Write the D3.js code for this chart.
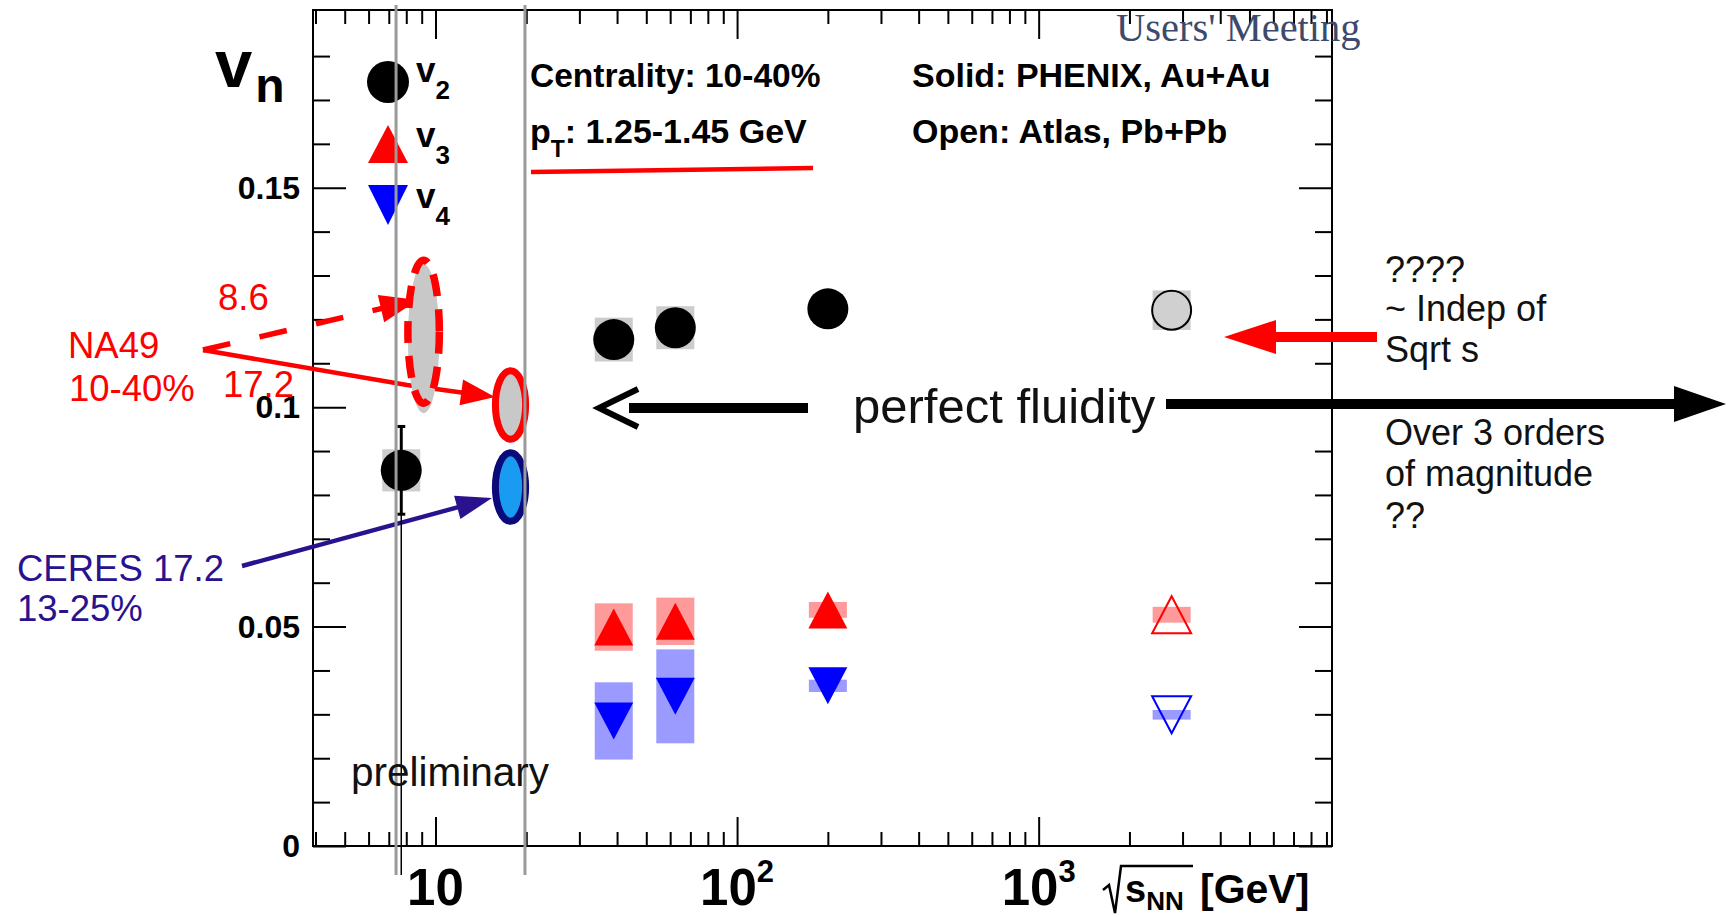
<!DOCTYPE html>
<html>
<head>
<meta charset="utf-8">
<script src="https://cdn.jsdelivr.net/npm/d3@7"></script>
<style>
  body { margin: 0; background: #fff; }
  text { font-family: "Liberation Sans", Arial, sans-serif; }
</style>
</head>
<body>
<div id="canvas"></div>
<script>
// sqrt(s_NN) in GeV; last point is ATLAS Pb+Pb (open markers), the rest PHENIX Au+Au
const energy = [7.7, 39, 62.4, 200, 2760];
const isOpen = [false, false, false, false, true];
const v2 = [0.0856, 0.1154, 0.1181, 0.1224, 0.1221];
const v2Stat = [0.0100, 0, 0, 0, 0];
const v2Sys = [0.0048, 0.0050, 0.0049, 0.0012, 0.0045];
const v3 = [null, 0.0499, 0.0512, 0.0538, 0.0527];
const v3Sys = [null, 0.0054, 0.0054, 0.0018, 0.0018];
const v4 = [null, 0.0285, 0.0341, 0.0365, 0.0299];
const v4Sys = [null, 0.0088, 0.0107, 0.0014, 0.0011];

// SPS measurements drawn as ellipses (ranges in data units)
const spsName = ["NA49 8.6", "NA49 17.2", "CERES 17.2"];
const spsXLo = [8.1, 15.8, 15.8];
const spsXHi = [10.3, 19.9, 19.9];
const spsYLo = [0.1009, 0.0927, 0.0740];
const spsYHi = [0.1335, 0.1083, 0.0896];

// gray guide lines (GeV)
const guideX = [7.4, 19.8];

const yTicks = [0, 0.05, 0.1, 0.15];
const yTickLabels = ["0", "0.05", "0.1", "0.15"];
const xTicks = [10, 100, 1000];
const xTickExp = ["", "2", "3"];

const width = 1729;
const height = 917;
const svg = d3.select("#canvas").append("svg")
  .attr("width", width).attr("height", height);

const x = d3.scaleLog().domain([3.925, 9390]).range([313, 1332]);
const y = d3.scaleLinear().domain([0, 0.1905]).range([846, 10]);

const minorX = [];
[1, 10, 100, 1000].forEach(d => {
  for (let k = 2; k <= 9; k++) {
    const v = d * k;
    if (v > x.domain()[0] && v < x.domain()[1]) minorX.push(v);
  }
});
const minorY = d3.range(1, 19).map(i => i / 100).filter(v => !yTicks.some(t => Math.abs(t - v) < 1e-9));

// ---- frame + ticks
const axes = svg.append("g").attr("class", "axes");
function tickAxis(axis, tr) {
  const g = axes.append("g").attr("transform", tr).call(axis);
  g.select(".domain").remove();
  g.selectAll("line").attr("stroke", "#000").attr("stroke-width", 2);
  g.selectAll("text").remove();
}
tickAxis(d3.axisBottom(x).tickValues(minorX).tickSize(-14), "translate(0,846)");
tickAxis(d3.axisBottom(x).tickValues(xTicks).tickSize(-29), "translate(0,846)");
tickAxis(d3.axisTop(x).tickValues(minorX).tickSize(-14), "translate(0,10)");
tickAxis(d3.axisTop(x).tickValues(xTicks).tickSize(-29), "translate(0,10)");
tickAxis(d3.axisLeft(y).tickValues(minorY).tickSize(-17), "translate(313,0)");
tickAxis(d3.axisLeft(y).tickValues(yTicks).tickSize(-33), "translate(313,0)");
tickAxis(d3.axisRight(y).tickValues(minorY).tickSize(-17), "translate(1332,0)");
tickAxis(d3.axisRight(y).tickValues(yTicks).tickSize(-33), "translate(1332,0)");

axes.append("rect")
  .attr("x", x.range()[0]).attr("y", y.range()[1])
  .attr("width", x.range()[1] - x.range()[0])
  .attr("height", y.range()[0] - y.range()[1])
  .attr("fill", "none").attr("stroke", "#000").attr("stroke-width", 2);

// y tick labels
axes.selectAll(".ylab").data(yTicks).join("text")
  .attr("x", 300).attr("y", d => y(d) + 11)
  .attr("text-anchor", "end").attr("font-size", 32).attr("font-weight", "bold")
  .text((d, i) => yTickLabels[i]);

// x tick labels 10, 10^2, 10^3
const xl = axes.selectAll(".xlab").data(xTicks).join("text")
  .attr("x", d => x(d)).attr("y", 905)
  .attr("text-anchor", "middle").attr("font-size", 51).attr("font-weight", "bold");
xl.append("tspan").text("10");
xl.append("tspan").attr("dy", -23).attr("font-size", 31).text((d, i) => xTickExp[i]);

// x axis title: sqrt(s_NN) [GeV]
axes.append("path")
  .attr("d", "M1103,890 L1109,885 L1115,913 L1121,866 L1193,866")
  .attr("fill", "none").attr("stroke", "#000").attr("stroke-width", 2.5);
const xt = axes.append("text").attr("x", 1125).attr("y", 902).attr("font-weight", "bold");
xt.append("tspan").attr("font-size", 38).text("s");
xt.append("tspan").attr("font-size", 26).attr("dy", 8).text("NN");
xt.append("tspan").attr("font-size", 41).attr("dy", -7).attr("x", 1200).text("[GeV]");

// y axis title v_n
const yt = svg.append("text").attr("x", 215).attr("y", 87).attr("font-weight", "bold");
yt.append("tspan").attr("font-size", 67).text("v");
yt.append("tspan").attr("font-size", 48).attr("dx", 3).attr("dy", 15).text("n");

// ---- helpers
function arrow(g, pts, color, sw, headLen, headHalf, dash) {
  const n = pts.length;
  const [x1, y1] = pts[n - 2];
  const [x2, y2] = pts[n - 1];
  const a = Math.atan2(y2 - y1, x2 - x1);
  const bx = x2 - headLen * Math.cos(a), by = y2 - headLen * Math.sin(a);
  const linePts = pts.slice(0, n - 1).concat([[bx + 2 * Math.cos(a), by + 2 * Math.sin(a)]]);
  g.append("path").attr("d", d3.line()(linePts))
    .attr("fill", "none").attr("stroke", color).attr("stroke-width", sw)
    .attr("stroke-dasharray", dash || null);
  const px = -Math.sin(a) * headHalf, py = Math.cos(a) * headHalf;
  g.append("path")
    .attr("d", `M${x2},${y2}L${bx + px},${by + py}L${bx - px},${by - py}Z`)
    .attr("fill", color);
}
function triPath(cx, cy, w, h, up) {
  const s = up ? 1 : -1;
  return `M${cx},${cy - s * h / 2}L${cx + w / 2},${cy + s * h / 2}L${cx - w / 2},${cy + s * h / 2}Z`;
}

// ---- annotation arrows (drawn beneath ellipses)
const ann = svg.append("g");
arrow(ann, [[203, 350], [407, 385], [495, 397]], "#ff0000", 4.5, 34, 13);
arrow(ann, [[203, 350], [418, 300]], "#ff0000", 5.5, 38, 14, "28 30");
arrow(ann, [[242, 566], [492, 498]], "#2a128f", 4.5, 36, 12);

// ---- systematic boxes
const boxHalf = 19;
const plot = svg.append("g");
function sysBoxes(vals, sys, fill) {
  energy.forEach((e, i) => {
    if (vals[i] == null) return;
    plot.append("rect")
      .attr("x", x(e) - boxHalf).attr("width", 2 * boxHalf)
      .attr("y", y(vals[i] + sys[i])).attr("height", y(vals[i] - sys[i]) - y(vals[i] + sys[i]))
      .attr("fill", fill);
  });
}
sysBoxes(v2, v2Sys, "#cccccc");
sysBoxes(v3, v3Sys, "#ff9a9a");
sysBoxes(v4, v4Sys, "#9a9aff");

// ---- SPS ellipses
spsName.forEach((nm, i) => {
  const cx = (x(spsXLo[i]) + x(spsXHi[i])) / 2;
  const rx = (x(spsXHi[i]) - x(spsXLo[i])) / 2;
  const cy = (y(spsYLo[i]) + y(spsYHi[i])) / 2;
  const ry = (y(spsYLo[i]) - y(spsYHi[i])) / 2;
  const ceres = nm.startsWith("CERES");
  if (nm === "NA49 8.6") {
    plot.append("ellipse").attr("cx", cx).attr("cy", cy + 7).attr("rx", rx).attr("ry", ry + 3)
      .attr("fill", "#c8c8c8");
    plot.append("ellipse").attr("cx", cx).attr("cy", cy).attr("rx", rx).attr("ry", ry)
      .attr("fill", "none").attr("stroke", "#ff0000").attr("stroke-width", 7.5)
      .attr("stroke-dasharray", "22 13");
  } else {
    plot.append("ellipse").attr("cx", cx).attr("cy", cy).attr("rx", rx).attr("ry", ry)
      .attr("fill", ceres ? "#1a9bf2" : "#c8c8c8")
      .attr("stroke", ceres ? "#0a0a7a" : "#ff0000").attr("stroke-width", 7);
  }
});

// ---- stat error bar
energy.forEach((e, i) => {
  if (!v2Stat[i]) return;
  const xx = x(e);
  plot.append("line").attr("x1", xx).attr("x2", xx)
    .attr("y1", y(v2[i] + v2Stat[i])).attr("y2", y(v2[i] - v2Stat[i]))
    .attr("stroke", "#000").attr("stroke-width", 3);
  [v2[i] + v2Stat[i], v2[i] - v2Stat[i]].forEach(v => {
    plot.append("line").attr("x1", xx - 4).attr("x2", xx + 4)
      .attr("y1", y(v)).attr("y2", y(v)).attr("stroke", "#000").attr("stroke-width", 3);
  });
});

// ---- markers
const R = 20.5, TW = 39, TH = 37;
energy.forEach((e, i) => {
  plot.append("circle").attr("cx", x(e)).attr("cy", y(v2[i])).attr("r", isOpen[i] ? R - 1 : R)
    .attr("fill", isOpen[i] ? "#d0d0d0" : "#000")
    .attr("stroke", "#000").attr("stroke-width", isOpen[i] ? 2 : 0);
  if (v3[i] != null) {
    plot.append("path").attr("d", triPath(x(e), y(v3[i]), TW, TH, true))
      .attr("fill", isOpen[i] ? "none" : "#ff0000")
      .attr("stroke", "#ff0000").attr("stroke-width", isOpen[i] ? 2 : 0);
  }
  if (v4[i] != null) {
    plot.append("path").attr("d", triPath(x(e), y(v4[i]), TW, TH, false))
      .attr("fill", isOpen[i] ? "none" : "#0000ff")
      .attr("stroke", "#0000ff").attr("stroke-width", isOpen[i] ? 2 : 0);
  }
});

// ---- legend
const leg = svg.append("g");
leg.append("circle").attr("cx", 388).attr("cy", 82).attr("r", 21).attr("fill", "#000");
leg.append("path").attr("d", triPath(388, 144, 40, 38, true)).attr("fill", "#ff0000");
leg.append("path").attr("d", triPath(388, 205, 40, 40, false)).attr("fill", "#0000ff");
[["2", 82], ["3", 147], ["4", 208]].forEach(([s, yy]) => {
  const t = leg.append("text").attr("x", 416).attr("y", yy).attr("font-weight", "bold");
  t.append("tspan").attr("font-size", 35).text("v");
  t.append("tspan").attr("font-size", 26).attr("dy", 17).text(s);
});

// ---- guide lines (on top)
guideX.forEach(g => {
  svg.append("line").attr("x1", x(g)).attr("x2", x(g)).attr("y1", 5).attr("y2", 875)
    .attr("stroke", "#9a9a9a").attr("stroke-width", 3);
});
svg.append("line").attr("x1", x(energy[0])).attr("x2", x(energy[0]))
  .attr("y1", y(v2[0] + v2Stat[0])).attr("y2", 875)
  .attr("stroke", "#000").attr("stroke-width", 1.5);

// ---- header texts
svg.append("text").attr("x", 1116).attr("y", 41)
  .style("font-family", "'Liberation Serif', 'Times New Roman', serif")
  .attr("font-size", 40.5).attr("fill", "#3d4a6b").text("Users' Meeting");
svg.append("text").attr("x", 530).attr("y", 87).attr("font-size", 33.5).attr("font-weight", "bold")
  .text("Centrality: 10-40%");
const pt = svg.append("text").attr("x", 530).attr("y", 143).attr("font-size", 34).attr("font-weight", "bold");
pt.append("tspan").text("p");
pt.append("tspan").attr("font-size", 23).attr("dy", 14).text("T");
pt.append("tspan").attr("dy", -14).text(": 1.25-1.45 GeV");
svg.append("line").attr("x1", 531).attr("y1", 172).attr("x2", 813).attr("y2", 168)
  .attr("stroke", "#ff0000").attr("stroke-width", 4.5);
svg.append("text").attr("x", 912).attr("y", 87).attr("font-size", 34).attr("font-weight", "bold")
  .text("Solid: PHENIX, Au+Au");
svg.append("text").attr("x", 912).attr("y", 143).attr("font-size", 34).attr("font-weight", "bold")
  .text("Open: Atlas, Pb+Pb");

// ---- SPS labels
const red = [["8.6", 218, 310], ["NA49", 68, 358], ["10-40%", 69, 401], ["17.2", 223, 397]];
red.forEach(([s, xx, yy]) => svg.append("text").attr("x", xx).attr("y", yy)
  .attr("font-size", 36.5).attr("fill", "#ff0000").text(s));
[["CERES 17.2", 17, 581], ["13-25%", 17, 621]].forEach(([s, xx, yy]) => svg.append("text")
  .attr("x", xx).attr("y", yy).attr("font-size", 36.5).attr("fill", "#2a128f").text(s));

svg.append("text").attr("x", 351).attr("y", 786).attr("font-size", 40.5).attr("fill", "#111")
  .text("preliminary");

// ---- perfect fluidity arrows
const pf = svg.append("g");
pf.append("line").attr("x1", 629).attr("x2", 808).attr("y1", 408).attr("y2", 408)
  .attr("stroke", "#000").attr("stroke-width", 10);
pf.append("path").attr("d", "M638,389L599,408L638,427").attr("fill", "none")
  .attr("stroke", "#000").attr("stroke-width", 6);
pf.append("text").attr("x", 853).attr("y", 423).attr("font-size", 49).attr("fill", "#111")
  .text("perfect fluidity");
arrow(pf, [[1166, 404], [1726, 404]], "#000", 10, 52, 18);
arrow(pf, [[1377, 337], [1224, 337]], "#ff0000", 10, 52, 17);

const notes = [["????", 282], ["~ Indep of", 321], ["Sqrt s", 362],
  ["Over 3 orders", 445], ["of magnitude", 486], ["??", 528]];
notes.forEach(([s, yy]) => svg.append("text").attr("x", 1385).attr("y", yy)
  .attr("font-size", 36).attr("fill", "#111").text(s));
</script>
</body>
</html>
